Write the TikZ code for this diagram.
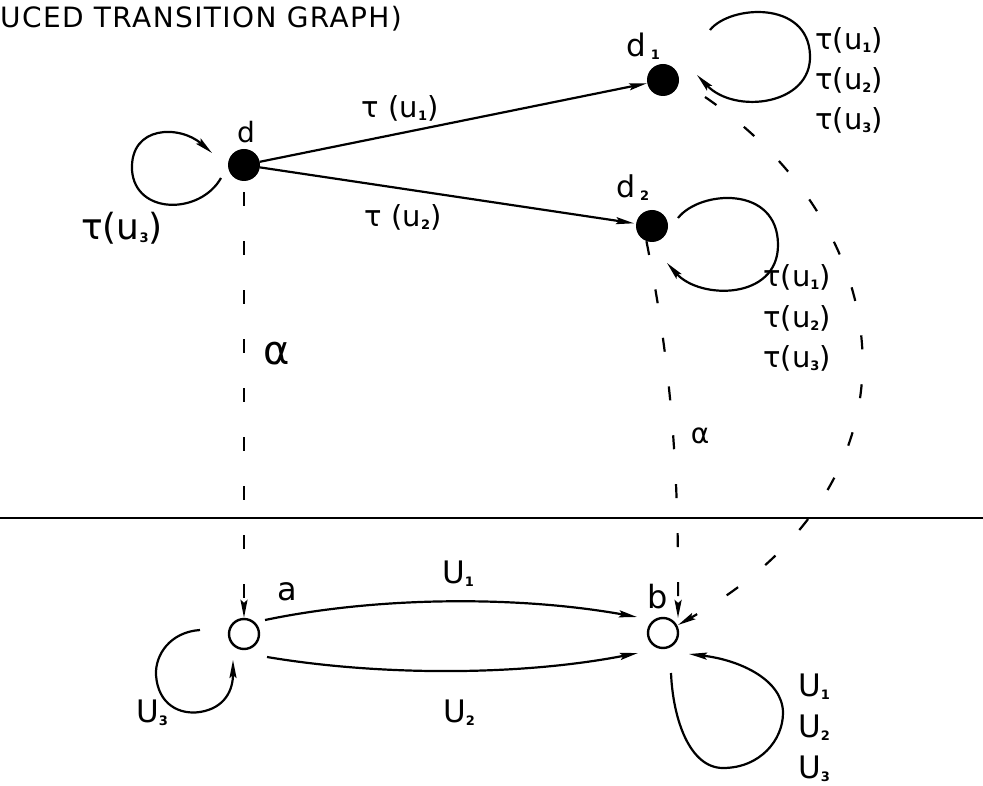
\documentclass[tikz,border=0pt]{standalone}
\usepackage{fontspec}
\setmainfont{DejaVu Sans}
\usetikzlibrary{arrows.meta,calc}
\newcommand{\lsub}[1]{\raisebox{-3pt}{\fontsize{13}{13}\selectfont\bfseries #1}}
\begin{document}
\begin{tikzpicture}[x=1pt,y=-1pt,
  every node/.style={inner sep=0pt},
  dot/.style={circle,fill=black,minimum size=32pt},
  hollow/.style={circle,draw,line width=2.4pt,minimum size=30pt},
  tip/.style={-{Stealth[length=18pt,width=7pt,inset=3pt]}},
  edge/.style={line width=2.2pt,tip},
  dline/.style={line width=2.2pt,dash pattern=on 14pt off 35pt,tip},
  lbl/.style={font=\fontsize{29}{31}\selectfont},
  ulbl/.style={font=\fontsize{31}{33}\selectfont},
]
\useasboundingbox (0,0) rectangle (983,786);

% title
\node[anchor=base west, font={\fontsize{28}{30}\selectfont\addfontfeature{LetterSpace=5}}] (title) at (0,28) {UCED TRANSITION GRAPH)};

% divider
\coordinate (hl) at (0,518);
\coordinate (hr) at (983,518);
\draw[line width=2.4pt] (hl) -- (hr);

% states
\node[dot] (d) at (244,165) {};
\node[dot] (d1) at (663,80) {};
\node[dot] (d2) at (652,226) {};
\node[hollow] (a) at (244,634) {};
\node[hollow] (b) at (663,633) {};

% state labels
\node[anchor=base, font=\fontsize{28}{30}\selectfont] (dl) at (246,143) {d};
\node[anchor=base west, font=\fontsize{31}{33}\selectfont] (d1l) at (626,57) {d\hspace{5pt}\lsub{1}};
\node[anchor=base west, font=\fontsize{30}{32}\selectfont] (d2l) at (616,198) {d\hspace{5pt}\lsub{2}};
\node[anchor=base, font=\fontsize{32}{34}\selectfont] (al) at (287,600) {a};
\node[anchor=base, font=\fontsize{32}{34}\selectfont] (bl) at (658,608) {b};

% top edges
\draw[edge] (d) -- (d1);
\draw[edge,shorten >=2pt] (d) -- (d2);
\node[lbl] (t1) at (400,108) {τ (u\lsub{1})};
\node[lbl] (t2) at (403,217) {τ (u\lsub{2})};

% loops (top)
\draw[edge] ([shift={(-23,13)}]d.center) .. controls (200,215) and (135,215) .. (132,170)
  .. controls (130,125) and (180,125) .. ([shift={(-32,-12)}]d.center);
\node[font=\fontsize{36}{38}\selectfont] (tl) at (122,228) {τ(u\lsub{3})};

\draw[edge] ([shift={(47,-50)}]d1.center) .. controls (730,5) and (808,0) .. (810,55)
  .. controls (812,105) and (735,115) .. ([shift={(34,-5)}]d1.center);
\node[lbl,anchor=east] (l11) at (883,40) {τ(u\lsub{1})};
\node[lbl,anchor=east] (l12) at (883,80) {τ(u\lsub{2})};
\node[lbl,anchor=east] (l13) at (883,120) {τ(u\lsub{3})};

\draw[edge] ([shift={(26,-8)}]d2.center) .. controls (700,190) and (778,185) .. (778,245)
  .. controls (778,300) and (700,300) .. ([shift={(15,37)}]d2.center);
\node[lbl,anchor=east] (l21) at (831,277) {τ(u\lsub{1})};
\node[lbl,anchor=east] (l22) at (831,318) {τ(u\lsub{2})};
\node[lbl,anchor=east] (l23) at (831,358) {τ(u\lsub{3})};

% dashed abstraction maps
\draw[dline, dash phase=38pt] (d) -- (a);
\node[font=\fontsize{40}{40}\selectfont] (al1) at (277,354) {α};
\draw[dline] (d2.250) .. controls (668,350) and (679,450) .. ([shift={(15,-15)}]b.center);
\node[font=\fontsize{28}{28}\selectfont] (al2) at (700,436) {α};
\draw[dline] ([shift={(42,17)}]d1.center) .. controls (900,230) and (935,480) .. ([shift={(15,-8)}]b.center);

% bottom edges
\draw[edge] ([shift={(21,-14)}]a.center) .. controls (380,596) and (520,596) .. ([shift={(-26,-16)}]b.center);
\node[ulbl] (u1) at (458,574) {U\lsub{1}};
\draw[edge] ([shift={(23,23)}]a.center) .. controls (380,676) and (520,676) .. ([shift={(-25,20)}]b.center);
\node[ulbl] (u2) at (459,713) {U\lsub{2}};

\draw[edge] ([shift={(-44,-4)}]a.center) .. controls (170,632) and (155,655) .. (156,675)
  .. controls (158,705) and (180,715) .. (200,712)
  .. controls (225,708) and (233,690) .. ([shift={(-11,26)}]a.center);
\node[ulbl] (u3) at (152,713) {U\lsub{3}};

\draw[edge] ([shift={(8,40)}]b.center) .. controls (673,720) and (690,768) .. (723,768)
  .. controls (760,768) and (783,740) .. (783,713)
  .. controls (783,680) and (740,660) .. ([shift={(26,21)}]b.center);
\node[ulbl,anchor=west] (bu1) at (798,687) {U\lsub{1}};
\node[ulbl,anchor=west] (bu2) at (798,728) {U\lsub{2}};
\node[ulbl,anchor=west] (bu3) at (798,769) {U\lsub{3}};
\end{tikzpicture}
\end{document}
